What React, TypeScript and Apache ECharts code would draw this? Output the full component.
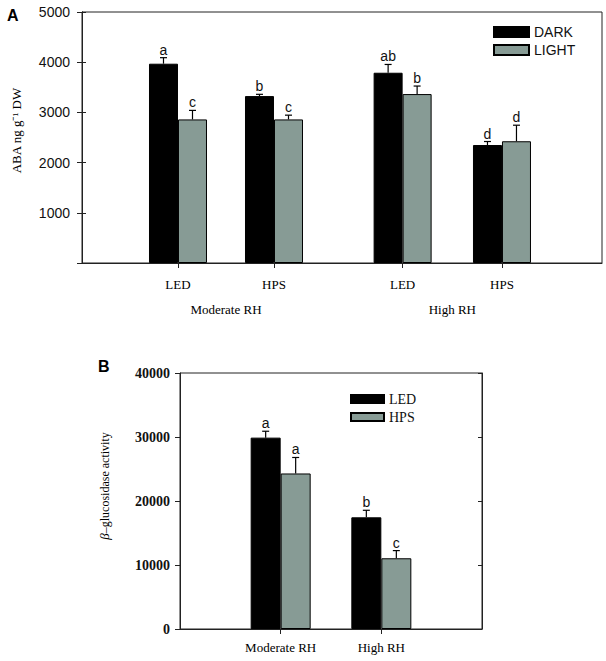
import React, { useEffect, useRef } from 'react';
import * as echarts from 'echarts';

// Panel A data
const groupNamesA = ['Moderate RH', 'High RH'];
const groupPosA = [1.5, 3.8575];
const lampsA = ['LED', 'HPS', 'LED', 'HPS'];
const xPosA = [1, 2, 3.34, 4.375];
const darkA = [3970, 3325, 3790, 2350];
const darkErrA = [120, 35, 165, 70];
const darkLetA = ['a', 'b', 'ab', 'd'];
const lightA = [2860, 2860, 3365, 2425];
const lightErrA = [180, 85, 160, 320];
const lightLetA = ['c', 'c', 'b', 'd'];

// Panel B data
const groupNamesB = ['Moderate RH', 'High RH'];
const xPosB = [1, 2];
const ledB = [29900, 17450];
const ledErrB = [1000, 1100];
const ledLetB = ['a', 'b'];
const hpsB = [24300, 11050];
const hpsErrB = [2500, 1200];
const hpsLetB = ['a', 'c'];

const SERIF = '"Liberation Serif", "Times New Roman", serif';
const SANS = '"Liberation Sans", Arial, sans-serif';
const LIGHT_COLOR = '#879b95';

function errSeries(name: string, xi: number, yi: number, xs: number[], vals: number[], errs: number[], letters: string[], sign: number, bw: number) {
  return {
    type: 'custom',
    name,
    xAxisIndex: xi,
    yAxisIndex: yi,
    z: 5,
    clip: false,
    data: xs.map((x, i) => [x, vals[i], errs[i]]),
    renderItem: (params: any, api: any) => {
      const x = api.value(0);
      const y = api.value(1);
      const e = api.value(2);
      const base = api.coord([x, y]);
      const top = api.coord([x, y + e]);
      const cx = base[0] + (sign * bw) / 2;
      return {
        type: 'group',
        children: [
          { type: 'line', shape: { x1: cx, y1: base[1], x2: cx, y2: top[1] }, style: { stroke: '#000', lineWidth: 1.2 } },
          { type: 'line', shape: { x1: cx - 3.5, y1: top[1], x2: cx + 3.5, y2: top[1] }, style: { stroke: '#000', lineWidth: 1.2 } },
          {
            type: 'text',
            x: cx,
            y: top[1] - 1,
            style: { text: letters[params.dataIndex], align: 'center', verticalAlign: 'bottom', fontSize: 14, fontFamily: SANS, fill: '#111' },
          },
        ],
      };
    },
  };
}

export default function App() {
  const ref = useRef<HTMLDivElement>(null);
  useEffect(() => {
    document.body.style.margin = '0';
    const chart = echarts.init(ref.current!, null, { renderer: 'svg' });
    const axisLine = { show: true, lineStyle: { color: '#222', width: 1 } };
    const option: any = {
      animation: false,
      backgroundColor: '#fff',
      title: [
        { text: 'A', left: 2, top: 2, textStyle: { fontFamily: SANS, fontWeight: 'bold', fontSize: 16, color: '#000' } },
        { text: 'B', left: 93, top: 353, textStyle: { fontFamily: SANS, fontWeight: 'bold', fontSize: 16, color: '#000' } },
      ],
      legend: [
        {
          data: ['DARK', 'LIGHT'],
          orient: 'vertical',
          left: 493,
          top: 25,
          padding: 0,
          itemWidth: 35,
          itemHeight: 10,
          itemGap: 4,
          icon: 'rect',
          textStyle: { fontFamily: SANS, fontSize: 14, color: '#111' },
        },
        {
          data: ['LED', 'HPS'],
          orient: 'vertical',
          left: 350,
          top: 392,
          padding: 0,
          itemWidth: 33,
          itemHeight: 8,
          itemGap: 4,
          icon: 'rect',
          textStyle: { fontFamily: SERIF, fontSize: 14, color: '#111' },
        },
      ],
      grid: [
        { left: 82, top: 12, width: 520, height: 251, show: true, borderColor: '#222', borderWidth: 1 },
        { left: 180, top: 373, width: 302, height: 256, show: true, borderColor: '#222', borderWidth: 1 },
      ],
      xAxis: [
        {
          gridIndex: 0,
          type: 'value',
          min: 0,
          max: 5.417,
          axisLine,
          splitLine: { show: false },
          axisTick: { show: true, customValues: xPosA, length: 5, lineStyle: { color: '#222' } },
          axisLabel: {
            customValues: xPosA,
            margin: 15,
            fontFamily: SERIF,
            fontSize: 13,
            color: '#000',
            formatter: (v: number) => lampsA[xPosA.indexOf(v)] ?? '',
          },
        },
        {
          gridIndex: 0,
          type: 'value',
          min: 0,
          max: 5.417,
          position: 'bottom',
          offset: 25,
          axisLine: { show: false },
          splitLine: { show: false },
          axisTick: { show: false },
          axisLabel: {
            customValues: groupPosA,
            margin: 15,
            fontFamily: SERIF,
            fontSize: 13,
            color: '#000',
            formatter: (v: number) => groupNamesA[groupPosA.indexOf(v)] ?? '',
          },
        },
        {
          gridIndex: 1,
          type: 'value',
          min: 0,
          max: 3,
          axisLine,
          splitLine: { show: false },
          axisTick: { show: true, customValues: xPosB, length: 5, lineStyle: { color: '#222' } },
          axisLabel: {
            customValues: xPosB,
            margin: 12,
            fontFamily: SERIF,
            fontSize: 13,
            color: '#000',
            formatter: (v: number) => groupNamesB[xPosB.indexOf(v)] ?? '',
          },
        },
      ],
      yAxis: [
        {
          gridIndex: 0,
          type: 'value',
          min: 0,
          max: 5000,
          interval: 1000,
          axisLine,
          splitLine: { show: false },
          axisTick: { show: true, length: 5, lineStyle: { color: '#222' } },
          axisLabel: { margin: 12, fontFamily: SANS, fontSize: 14, color: '#111', formatter: (v: number) => (v === 0 ? '' : String(v)) },
          name: 'ABA ng g\u207B\u00B9 DW',
          nameLocation: 'middle',
          nameGap: 59,
          nameTextStyle: { fontFamily: SERIF, fontSize: 13, color: '#000', padding: [0, 0, 0, 14] },
        },
        {
          gridIndex: 0,
          type: 'value',
          position: 'right',
          min: 0,
          max: 5000,
          interval: 1000,
          axisLine,
          splitLine: { show: false },
          axisTick: { show: true, length: 4, lineStyle: { color: '#222' } },
          axisLabel: { show: false },
        },
        {
          gridIndex: 1,
          type: 'value',
          min: 0,
          max: 40000,
          interval: 10000,
          axisLine,
          splitLine: { show: false },
          axisTick: { show: true, length: 5, lineStyle: { color: '#222' } },
          axisLabel: { margin: 10, fontFamily: SERIF, fontWeight: 'bold', fontSize: 14, color: '#111', formatter: (v: number) => String(v) },
          name: '{i|\u03B2}\u2013glucosidase activity',
          nameLocation: 'middle',
          nameGap: 69,
          nameTextStyle: {
            fontFamily: SERIF,
            fontSize: 12,
            color: '#000',
            padding: [0, 0, 0, 30],
            rich: { i: { fontFamily: SERIF, fontSize: 13, fontStyle: 'italic', color: '#000' } },
          },
        },
        {
          gridIndex: 1,
          type: 'value',
          position: 'right',
          min: 0,
          max: 40000,
          interval: 10000,
          axisLine,
          splitLine: { show: false },
          axisTick: { show: true, inside: true, length: 4, lineStyle: { color: '#222' } },
          axisLabel: { show: false },
        },
      ],
      series: [
        {
          type: 'bar',
          name: 'DARK',
          xAxisIndex: 0,
          yAxisIndex: 0,
          barWidth: 29,
          barGap: '0%',
          itemStyle: { color: '#000', borderColor: '#000', borderWidth: 1 },
          data: xPosA.map((x, i) => [x, darkA[i]]),
        },
        {
          type: 'bar',
          name: 'LIGHT',
          xAxisIndex: 0,
          yAxisIndex: 0,
          barWidth: 29,
          barGap: '0%',
          itemStyle: { color: LIGHT_COLOR, borderColor: '#000', borderWidth: 1 },
          data: xPosA.map((x, i) => [x, lightA[i]]),
        },
        errSeries('errDark', 0, 0, xPosA, darkA, darkErrA, darkLetA, -1, 29),
        errSeries('errLight', 0, 0, xPosA, lightA, lightErrA, lightLetA, 1, 29),
        {
          type: 'bar',
          name: 'LED',
          xAxisIndex: 2,
          yAxisIndex: 2,
          barWidth: 30,
          barGap: '0%',
          itemStyle: { color: '#000', borderColor: '#000', borderWidth: 1 },
          data: xPosB.map((x, i) => [x, ledB[i]]),
        },
        {
          type: 'bar',
          name: 'HPS',
          xAxisIndex: 2,
          yAxisIndex: 2,
          barWidth: 30,
          barGap: '0%',
          itemStyle: { color: LIGHT_COLOR, borderColor: '#000', borderWidth: 1 },
          data: xPosB.map((x, i) => [x, hpsB[i]]),
        },
        errSeries('errLed', 2, 2, xPosB, ledB, ledErrB, ledLetB, -1, 30),
        errSeries('errHps', 2, 2, xPosB, hpsB, hpsErrB, hpsLetB, 1, 30),
      ],
    };
    chart.setOption(option);
    return () => chart.dispose();
  }, []);
  return <div ref={ref} style={{ width: 606, height: 661 }} />;
}
